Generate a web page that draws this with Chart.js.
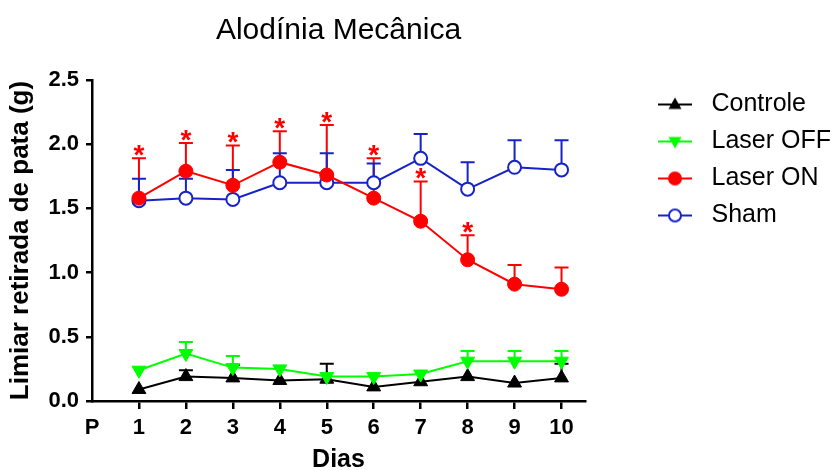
<!DOCTYPE html>
<html>
<head>
<meta charset="utf-8">
<script src="https://cdn.jsdelivr.net/npm/chart.js@4"></script>
<style>
html, body { margin: 0; padding: 0; background: #fff; }
</style>
</head>
<body>
<canvas id="grafico" width="836" height="470"></canvas>
<script>
// Dados
const dias = ['P', '1', '2', '3', '4', '5', '6', '7', '8', '9', '10'];
const controle = [0.09, 0.19, 0.18, 0.16, 0.17, 0.11, 0.15, 0.19, 0.14, 0.18];
const controleErro = [0, 0.05, 0.10, 0, 0.12, 0, 0, 0, 0, 0.11];
const laserOff = [0.24, 0.37, 0.26, 0.25, 0.19, 0.19, 0.21, 0.31, 0.31, 0.31];
const laserOffErro = [0, 0.09, 0.09, 0, 0, 0, 0, 0.08, 0.08, 0.08];
const laserOn = [1.58, 1.79, 1.68, 1.86, 1.76, 1.58, 1.40, 1.10, 0.91, 0.87];
const laserOnErro = [0.31, 0.22, 0.31, 0.24, 0.39, 0.31, 0.31, 0.19, 0.15, 0.17];
const sham = [1.56, 1.58, 1.57, 1.70, 1.70, 1.70, 1.89, 1.65, 1.82, 1.80];
const shamErro = [0.17, 0.15, 0.23, 0.23, 0.23, 0.15, 0.19, 0.21, 0.21, 0.23];
const significativo = [true, true, true, true, true, true, true, true, false, false];
const yTicks = [0, 0.5, 1.0, 1.5, 2.0, 2.5];

const PRETO = '#000000';
const VERDE = '#00ff00';
const VERMELHO = '#ff0000';
const AZUL = '#1623c8';

Chart.defaults.font.family = '"Liberation Sans", Arial, sans-serif';
Chart.defaults.color = '#000';

const pontos = (arr) => arr.map((v, i) => ({ x: i + 1, y: v }));

// icone da legenda: linha + marcador (deslocado para a direita dentro da caixa)
function iconeLegenda(cor, tipo) {
    const c = document.createElement('canvas');
    c.width = 102;
    c.height = 20;
    const g = c.getContext('2d');
    const cx = 78, cy = 10;
    g.strokeStyle = cor;
    g.lineWidth = 2;
    g.beginPath();
    g.moveTo(61, cy);
    g.lineTo(95, cy);
    g.stroke();
    g.beginPath();
    if (tipo === 'up') {
        g.moveTo(cx, cy - 7); g.lineTo(cx + 6.5, cy + 4.5); g.lineTo(cx - 6.5, cy + 4.5);
        g.closePath(); g.fillStyle = cor; g.fill();
    } else if (tipo === 'down') {
        g.moveTo(cx, cy + 7); g.lineTo(cx + 6.5, cy - 4.5); g.lineTo(cx - 6.5, cy - 4.5);
        g.closePath(); g.fillStyle = cor; g.fill();
    } else if (tipo === 'cheio') {
        g.arc(cx, cy, 7, 0, Math.PI * 2); g.fillStyle = cor; g.fill();
    } else {
        g.arc(cx, cy, 6, 0, Math.PI * 2); g.fillStyle = '#fff'; g.fill();
        g.lineWidth = 2; g.stroke();
    }
    return c;
}
const icones = [
    iconeLegenda(PRETO, 'up'),
    iconeLegenda(VERDE, 'down'),
    iconeLegenda(VERMELHO, 'cheio'),
    iconeLegenda(AZUL, 'aberto')
];

// Barras de erro (só para cima) e asteriscos
const erros = [controleErro, laserOffErro, laserOnErro, shamErro];
const barrasErro = {
    id: 'barrasErro',
    beforeDatasetsDraw(chart) {
        const ctx = chart.ctx;
        const y = chart.scales.y;
        chart.data.datasets.forEach((ds, i) => {
            const meta = chart.getDatasetMeta(i);
            ctx.save();
            ctx.strokeStyle = ds.borderColor;
            ctx.lineWidth = 2;
            meta.data.forEach((pt, j) => {
                const e = erros[i][j];
                if (!e) return;
                const topo = y.getPixelForValue(ds.data[j].y + e);
                ctx.beginPath();
                ctx.moveTo(pt.x, pt.y);
                ctx.lineTo(pt.x, topo);
                ctx.moveTo(pt.x - 7, topo);
                ctx.lineTo(pt.x + 7, topo);
                ctx.stroke();
            });
            ctx.restore();
        });
    },
    afterDatasetsDraw(chart) {
        const ctx = chart.ctx;
        const y = chart.scales.y;
        const meta = chart.getDatasetMeta(2);
        ctx.save();
        ctx.fillStyle = VERMELHO;
        ctx.font = 'bold 28px "Liberation Sans", Arial';
        ctx.textAlign = 'center';
        ctx.textBaseline = 'alphabetic';
        meta.data.forEach((pt, j) => {
            if (!significativo[j]) return;
            const topo = y.getPixelForValue(laserOn[j] + laserOnErro[j]);
            ctx.fillText('*', pt.x, topo + 6);
        });
        ctx.restore();
    }
};

const ctxGrafico = document.getElementById('grafico').getContext('2d');
const grafico = new Chart(ctxGrafico, {
    type: 'line',
    data: {
        datasets: [{
            label: 'Controle',
            data: pontos(controle),
            borderColor: PRETO,
            backgroundColor: PRETO,
            pointStyle: 'triangle',
            pointRadius: 8,
            pointBorderWidth: 1,
            borderWidth: 2,
            order: 3
        }, {
            label: 'Laser OFF',
            data: pontos(laserOff),
            borderColor: VERDE,
            backgroundColor: VERDE,
            pointStyle: 'triangle',
            pointRotation: 180,
            pointRadius: 8,
            pointBorderWidth: 1,
            borderWidth: 2,
            order: 1
        }, {
            label: 'Laser ON',
            data: pontos(laserOn),
            borderColor: VERMELHO,
            backgroundColor: VERMELHO,
            pointStyle: 'circle',
            pointRadius: 7,
            pointBorderWidth: 1,
            borderWidth: 2,
            order: 0
        }, {
            label: 'Sham',
            data: pontos(sham),
            borderColor: AZUL,
            backgroundColor: '#ffffff',
            pointStyle: 'circle',
            pointRadius: 6.5,
            pointBorderWidth: 2,
            borderWidth: 2,
            order: 2
        }]
    },
    options: {
        responsive: false,
        animation: false,
        layout: { padding: { left: 0, right: 0, top: 0, bottom: 0 } },
        plugins: {
            tooltip: { enabled: false },
            title: {
                display: true,
                text: 'Alodínia Mecânica',
                fullSize: false,
                color: '#000',
                font: { size: 30, weight: 'normal' },
                padding: { top: 13, bottom: 31 }
            },
            legend: {
                position: 'right',
                align: 'start',
                fullSize: false,
                maxWidth: 251,
                sort: (a, b) => a.datasetIndex - b.datasetIndex,
                labels: {
                    usePointStyle: true,
                    pointStyleWidth: 102,
                    padding: 12,
                    color: '#000',
                    font: { size: 25 },
                    generateLabels(chart) {
                        return chart.data.datasets.map((ds, i) => ({
                            text: ds.label,
                            datasetIndex: i,
                            pointStyle: icones[i],
                            rotation: 0,
                            fillStyle: ds.borderColor,
                            strokeStyle: ds.borderColor,
                            lineWidth: 0,
                            fontColor: '#000',
                            hidden: false
                        }));
                    }
                }
            }
        },
        scales: {
            x: {
                type: 'linear',
                min: 0,
                max: 10.5,
                afterBuildTicks: (s) => { s.ticks = dias.map((d, i) => ({ value: i })); },
                afterFit: (s) => { s.height = 69; },
                ticks: {
                    callback: (v) => dias[v],
                    autoSkip: false,
                    maxRotation: 0,
                    padding: 6,
                    color: '#000',
                    font: { size: 22, weight: 'bold' }
                },
                grid: {
                    drawOnChartArea: false,
                    tickLength: 8,
                    lineWidth: 2.5,
                    color: (c) => (c.tick && c.tick.value === 0) ? 'rgba(0,0,0,0)' : '#000'
                },
                border: { color: '#000', width: 2.5 },
                title: {
                    display: true,
                    text: 'Dias',
                    color: '#000',
                    font: { size: 25, weight: 'bold', lineHeight: 1 },
                    padding: { top: 0, bottom: -3 }
                }
            },
            y: {
                min: 0,
                max: 2.5,
                afterBuildTicks: (s) => { s.ticks = yTicks.map(v => ({ value: v })); },
                afterFit: (s) => { s.width = 92; },
                ticks: {
                    callback: (v) => v.toFixed(1),
                    padding: 7,
                    color: '#000',
                    font: { size: 22, weight: 'bold' }
                },
                grid: {
                    drawOnChartArea: false,
                    tickLength: 6,
                    lineWidth: 2.5,
                    color: '#000'
                },
                border: { color: '#000', width: 2.5 },
                title: {
                    display: true,
                    text: 'Limiar retirada de pata (g)',
                    color: '#000',
                    font: { size: 26, weight: 'bold' },
                    padding: { top: 5, bottom: 0 }
                }
            }
        }
    },
    plugins: [barrasErro]
});
</script>
</body>
</html>
